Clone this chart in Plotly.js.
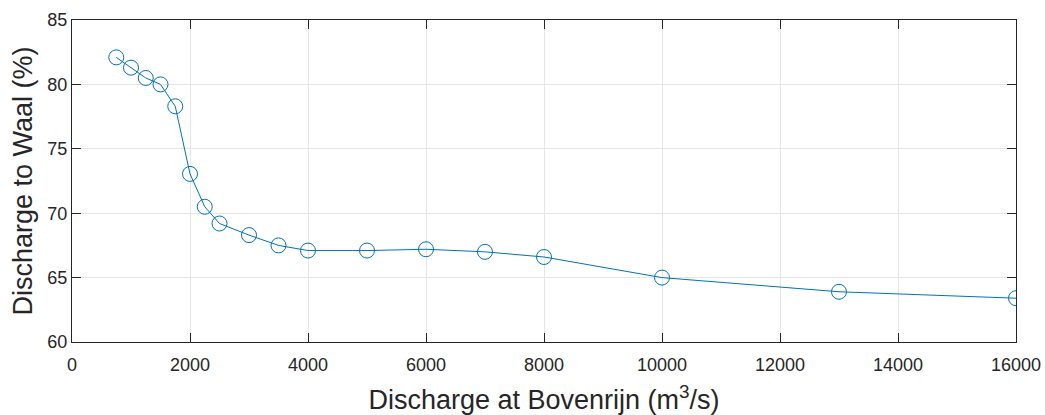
<!DOCTYPE html>
<html>
<head>
<meta charset="utf-8">
<script src="https://cdn.plot.ly/plotly-3.0.1.min.js"></script>
<style>html,body{margin:0;padding:0;background:#fff;}#chart{width:1045px;height:415px;}</style>
</head>
<body>
<div id="chart"></div>
<script>
const discharge = [750, 1000, 1250, 1500, 1750, 2000, 2250, 2500, 3000, 3500, 4000, 5000, 6000, 7000, 8000, 10000, 13000, 16000];
const waalShare = [82.1, 81.3, 80.5, 80.0, 78.3, 73.05, 70.5, 69.2, 68.3, 67.5, 67.1, 67.1, 67.2, 67.0, 66.6, 65.0, 63.9, 63.4];
const xTicks = [0, 2000, 4000, 6000, 8000, 10000, 12000, 14000, 16000];
const yTicks = [60, 65, 70, 75, 80, 85];

const axisCol = '#262626';
const trace = {
  x: discharge, y: waalShare, type: 'scatter', mode: 'lines+markers',
  line: {color: '#0072BD', width: 1},
  marker: {symbol: 'circle-open', size: 15, color: '#0072BD', line: {width: 1, color: '#0072BD'}},
  hoverinfo: 'skip'
};
const layout = {
  width: 1045, height: 415,
  margin: {l: 71.5, r: 29, t: 20, b: 72.5, pad: 0},
  paper_bgcolor: '#fff', plot_bgcolor: '#fff',
  font: {family: 'Liberation Sans, Arial, sans-serif', color: axisCol, size: 18},
  showlegend: false,
  xaxis: {
    range: [0, 16000], tickvals: xTicks, ticktext: xTicks.map(String),
    showgrid: true, gridcolor: '#e6e6e6', gridwidth: 1, zeroline: false,
    showline: true, linecolor: axisCol, linewidth: 1, mirror: 'ticks',
    ticks: 'inside', ticklen: 9, tickcolor: axisCol, tickwidth: 1,
    ticklabelstandoff: 6,
    tickfont: {size: 18, color: axisCol},
    title: {text: 'Discharge at Bovenrijn (m<sup>3</sup>/s)', font: {size: 27, color: axisCol}, standoff: 18}
  },
  yaxis: {
    range: [60, 85], tickvals: yTicks, ticktext: yTicks.map(String),
    showgrid: true, gridcolor: '#e6e6e6', gridwidth: 1, zeroline: false,
    showline: true, linecolor: axisCol, linewidth: 1, mirror: 'ticks',
    ticks: 'inside', ticklen: 9, tickcolor: axisCol, tickwidth: 1,
    tickfont: {size: 18, color: axisCol},
    title: {text: 'Discharge to Waal (%)', font: {size: 27, color: axisCol}, standoff: 6}
  }
};
Plotly.newPlot('chart', [trace], layout, {staticPlot: true, displayModeBar: false});
</script>
</body>
</html>
